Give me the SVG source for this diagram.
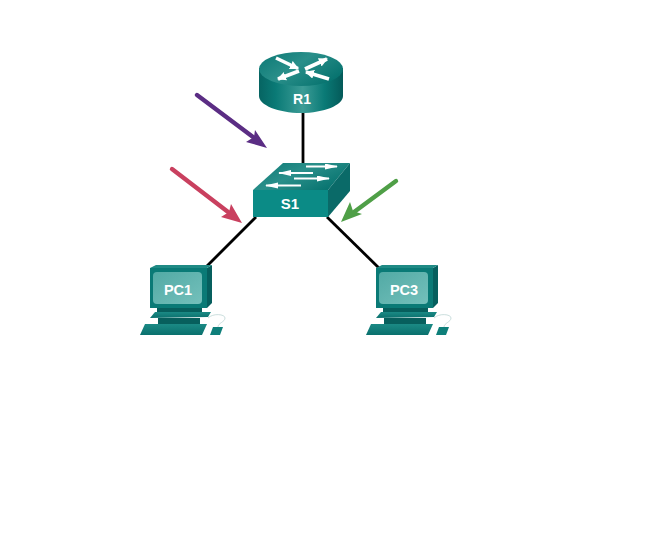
<svg xmlns="http://www.w3.org/2000/svg" xmlns:xlink="http://www.w3.org/1999/xlink" width="653" height="556" viewBox="0 0 653 556">
<style>
text{font-family:"Liberation Sans",Arial,sans-serif;font-weight:700;fill:#fff;text-anchor:middle;font-size:14px}
.link{stroke:#000;stroke-width:2.8;fill:none}
.ra{stroke:#fff;stroke-width:3.6;fill:none;marker-end:url(#wh)}
.sa{stroke:#fff;stroke-width:2;fill:none;marker-end:url(#wh2)}
</style>
<defs>
<marker id="wh" markerUnits="userSpaceOnUse" markerWidth="12" markerHeight="10" refX="8" refY="4.500" orient="auto"><path d="M0 0L9 4.500L0 9Z" fill="#fff"/></marker>
<marker id="wh2" markerUnits="userSpaceOnUse" markerWidth="14" markerHeight="8" refX="12" refY="3" orient="auto"><path d="M0 0L13 3L0 6Z" fill="#fff"/></marker>
<linearGradient id="cyl" x1="0" x2="1" y1="0" y2="0">
<stop offset="0" stop-color="#066462"/><stop offset=".2" stop-color="#0a7a76"/><stop offset=".52" stop-color="#3c9c96"/><stop offset=".78" stop-color="#0a7a76"/><stop offset="1" stop-color="#045a59"/>
</linearGradient>
<linearGradient id="top" x1="0" x2="1" y1="0" y2=".6">
<stop offset="0" stop-color="#0a7874"/><stop offset=".5" stop-color="#2a8f8a"/><stop offset="1" stop-color="#087470"/>
</linearGradient>
<linearGradient id="scr" x1="0" x2="1" y1="0" y2="1">
<stop offset="0" stop-color="#52aaa5"/><stop offset="1" stop-color="#74c0bb"/>
</linearGradient>
<linearGradient id="kb" x1="0" x2="0" y1="0" y2="1">
<stop offset="0" stop-color="#1b8a85"/><stop offset="1" stop-color="#0a706d"/>
</linearGradient>
<g id="pc">
<path d="M0 3H57V43H0Z" fill="#0a7a76"/>
<path d="M57 3L62 0V38L57 43Z" fill="#065f5e"/>
<path d="M0 3L6 0H62L57 3Z" fill="#1f8a85"/>
<rect x="3" y="7" width="49" height="32" rx="4" fill="url(#scr)"/>
<rect x="7" y="43" width="45" height="4" fill="#075f5d"/>
<path d="M5 47H61L58 52L0 53Z" fill="url(#kb)"/>
<rect x="8" y="53" width="42" height="6" fill="#075f5d"/>
<path d="M-5 59H57L52 70H-10Z" fill="url(#kb)"/>
<path d="M58 53C63 48 75 49 75 53C75 57 68 58 68 62" fill="none" stroke="#b4d0ce" stroke-width=".7"/>
<path d="M63 62H73L70 70H60Z" fill="#0e7f7a"/>
</g>
</defs>
<g id="connectors">
<line class="link" x1="303" y1="112" x2="303" y2="163"/>
<line class="link" x1="256" y1="217" x2="207" y2="266"/>
<line class="link" x1="327" y1="217" x2="381" y2="270"/>
</g>
<g id="R1">
<path d="M259 68V96C259 105 278 113 301 113C324 113 343 105 343 96V68Z" fill="url(#cyl)"/>
<ellipse cx="301" cy="69" rx="42" ry="17" fill="url(#top)"/>
<line class="ra" x1="276" y1="58" x2="298" y2="68.500"/>
<line class="ra" x1="305" y1="69" x2="327" y2="59"/>
<line class="ra" x1="299" y1="71" x2="278" y2="79"/>
<line class="ra" x1="329" y1="79" x2="306" y2="72"/>
<text x="302" y="104">R1</text>
</g>
<g id="S1">
<path d="M253 190L283 163H350L328 190Z" fill="url(#top)"/>
<path d="M328 190L350 163V191L328 217Z" fill="#0a6a68"/>
<rect x="253" y="190" width="75" height="27" fill="#0b8b86"/>
<line class="sa" x1="306" y1="166.500" x2="337" y2="166.500"/>
<line class="sa" x1="313" y1="173" x2="279" y2="173"/>
<line class="sa" x1="294" y1="178.500" x2="329" y2="178.500"/>
<line class="sa" x1="301" y1="185.500" x2="266" y2="185.500"/>
<text x="290" y="209" style="font-size:15px">S1</text>
</g>
<g id="PC1">
<use xlink:href="#pc" x="150" y="265"/>
<text x="178" y="295" style="font-size:14.500px">PC1</text>
</g>
<g id="PC3">
<use xlink:href="#pc" x="376" y="265"/>
<text x="404" y="295" style="font-size:14.500px">PC3</text>
</g>
<g id="arrows">
<path d="M197 95L257 140" stroke="#5b2d84" stroke-width="4.400" stroke-linecap="round" fill="none"/>
<path d="M267 148L246 142L254 137L255 130Z" fill="#5b2d84"/>
<path d="M172 169L232 215" stroke="#c9405f" stroke-width="4.400" stroke-linecap="round" fill="none"/>
<path d="M242 223L221 217L229 212L231 204Z" fill="#c9405f"/>
<path d="M396 181L350 215" stroke="#4f9f47" stroke-width="4.400" stroke-linecap="round" fill="none"/>
<path d="M341 222L350 202L353 211L362 214Z" fill="#4f9f47"/>
</g>
</svg>
